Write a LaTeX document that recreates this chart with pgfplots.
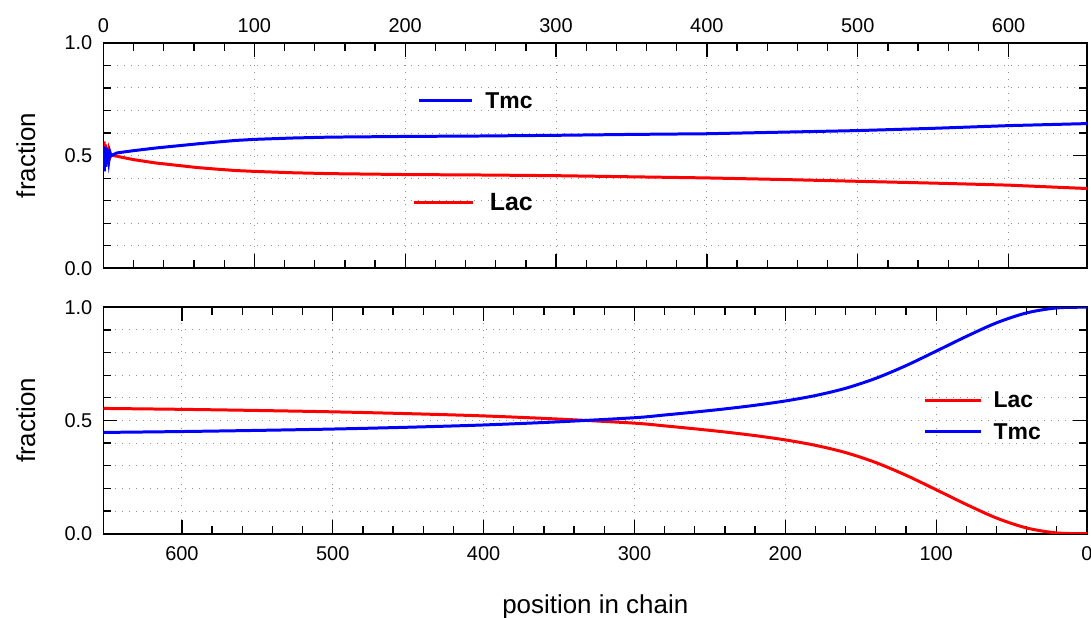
\documentclass[border=0pt]{standalone}
\usepackage{pgfplots}
\pgfplotsset{compat=1.18}
\usepackage{fontspec}
\setmainfont{Liberation Sans}
\begin{document}
\pgfplotsset{
  common/.style={
    scale only axis, width=986bp, height=226bp,
    xmin=0, xmax=652, ymin=0, ymax=1,
    xtick={0,100,...,600}, minor x tick num=4,
    ytick={0,0.5,1}, minor ytick={0.1,0.2,...,0.9},
    yticklabel style={/pgf/number format/fixed, /pgf/number format/fixed zerofill, /pgf/number format/precision=1},
    /pgf/number format/assume math mode=true,
    tick label style={font=\fontsize{20bp}{24bp}\selectfont, inner sep=0pt},
    yticklabel style={xshift=-11bp},
    tick align=inside, tick pos=both,
    major tick length=14bp, minor tick length=8bp,
    every tick/.style={black, line width=1.3bp},
    axis line style={line width=1.8bp},
    xmajorgrids, ymajorgrids, yminorgrids,
    major grid style={gray!85, line width=1bp, dash pattern=on 1bp off 6bp},
    minor grid style={gray!85, line width=1bp, dash pattern=on 1bp off 6bp},
    ylabel={fraction},
    every axis y label/.style={at={(axis description cs:-0.079,0.5)}, rotate=90, anchor=center, font=\fontsize{26bp}{30bp}\selectfont},
    clip=true,
  }
}
\begin{tikzpicture}
\useasboundingbox (-101bp,43bp) rectangle (990bp,-576bp);
% top panel
\begin{axis}[common, at={(0,0)}, anchor=north west,
  xticklabel pos=upper, xticklabel style={yshift=10bp}]
\addplot[red, line width=3bp] coordinates {
(0,0.50) (0.4,0.563) (0.9,0.45) (1.4,0.55) (1.9,0.46) (2.4,0.535) (2.9,0.475) (3.5,0.515) (4.2,0.49) (5,0.502) (9,0.497)
(20,0.482) (35,0.467) (50,0.456) (62,0.447) (75,0.440) (87,0.434) (100,0.430) (125,0.424) (150,0.420) (200,0.416)
(250,0.414) (300,0.411) (350,0.406) (400,0.401) (450,0.394) (500,0.386) (550,0.378) (600,0.369) (652,0.354)};
\addplot[blue, line width=3bp] coordinates {
(0,0.50) (0.5,0.43) (1.0,0.54) (1.5,0.45) (2.0,0.535) (2.5,0.465) (3.0,0.525) (3.6,0.48) (4.3,0.515) (5,0.50) (9,0.512)
(20,0.522) (35,0.534) (50,0.544) (62,0.552) (75,0.560) (87,0.567) (100,0.572) (125,0.578) (150,0.582) (200,0.585)
(250,0.587) (300,0.590) (350,0.594) (400,0.597) (450,0.604) (500,0.611) (550,0.621) (600,0.633) (652,0.642)};
\draw[blue, line width=3bp] (axis cs:209,0.743) -- (axis cs:244,0.743);
\node[anchor=west, inner sep=0pt, font=\fontsize{23bp}{27bp}\selectfont\bfseries] at (axis cs:253,0.743) {Tmc};
\draw[red, line width=3bp] (axis cs:206,0.292) -- (axis cs:245,0.292);
\node[anchor=west, inner sep=0pt, font=\fontsize{25bp}{29bp}\selectfont\bfseries] at (axis cs:256,0.292) {Lac};
\end{axis}
% bottom panel
\begin{axis}[common, at={(0,-265bp)}, anchor=north west, height=227bp, x dir=reverse,
  xticklabel pos=lower, xticklabel style={yshift=-13bp},
  xlabel={position in chain},
  every axis x label/.style={at={(axis description cs:0.5,-0.27)}, anchor=north, inner sep=0pt, font=\fontsize{26bp}{30bp}\selectfont}]
\addplot[red, line width=3bp, smooth, tension=0.5] coordinates {
(652,0.553) (600,0.549) (550,0.544) (500,0.538) (450,0.530) (400,0.520) (350,0.506) (300,0.488)
(280,0.476) (260,0.463) (240,0.449) (220,0.433) (200,0.414) (180,0.390) (160,0.358) (140,0.314)
(120,0.258) (100,0.194) (80,0.129) (60,0.069) (40,0.025) (20,0.003) (0,0)};
\addplot[blue, line width=3bp, smooth, tension=0.5] coordinates {
(652,0.447) (600,0.451) (550,0.456) (500,0.462) (450,0.470) (400,0.480) (350,0.494) (300,0.512)
(280,0.524) (260,0.537) (240,0.551) (220,0.567) (200,0.586) (180,0.610) (160,0.642) (140,0.686)
(120,0.742) (100,0.806) (80,0.871) (60,0.931) (40,0.975) (20,0.997) (0,1.0)};
\draw[red, line width=3bp] (axis cs:107.6,0.59) -- (axis cs:70.6,0.59);
\node[anchor=west, inner sep=0pt, font=\fontsize{23bp}{27bp}\selectfont\bfseries] at (axis cs:62,0.59) {Lac};
\draw[blue, line width=3bp] (axis cs:107.6,0.449) -- (axis cs:70.6,0.449);
\node[anchor=west, inner sep=0pt, font=\fontsize{23bp}{27bp}\selectfont\bfseries] at (axis cs:62,0.449) {Tmc};
\end{axis}
\end{tikzpicture}
\end{document}
